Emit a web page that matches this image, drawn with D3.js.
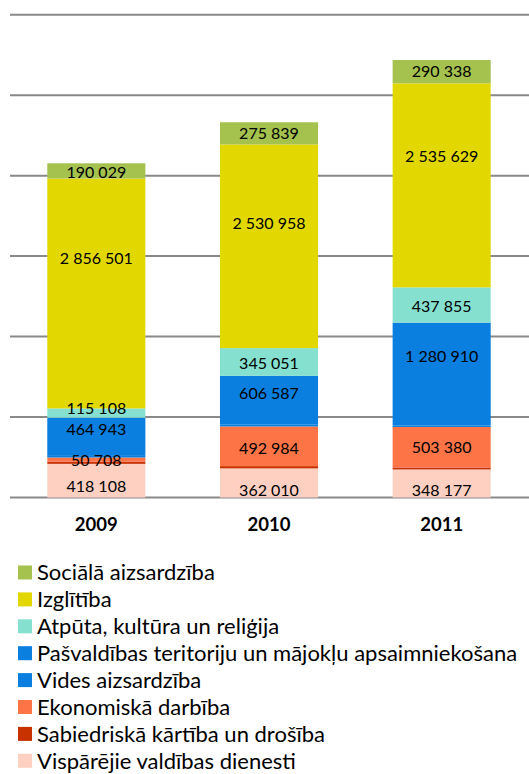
<!DOCTYPE html>
<html>
<head>
<meta charset="utf-8">
<script src="https://cdn.jsdelivr.net/npm/d3@7"></script>
<style>
  body { margin: 0; background: #fff; }
  text { font-family: Lato, "Open Sans", sans-serif; }
</style>
</head>
<body>
<script>
let size = {width: 529, height: 774};

// years along x
let years = ["2009", "2010", "2011"];

// series, bottom of the stack first
let series = [
  "Vispārējie valdības dienesti",
  "Sabiedriskā kārtība un drošība",
  "Ekonomiskā darbība",
  "Vides aizsardzība",
  "Pašvaldības teritoriju un mājokļu apsaimniekošana",
  "Atpūta, kultūra un reliģija",
  "Izglītība",
  "Sociālā aizsardzība"
];
let colors = ["#fdd0c2", "#c83200", "#fd7547", "#0a7fe0", "#0a7fe0", "#86e0cf", "#e2d800", "#a5c24f"];

// values per series (same order), one per year
let vispareji   = [418108, 362010, 348177];
let sabiedriska = [28000, 28000, 25000];
let ekonomiska  = [50708, 492984, 503380];
let vides       = [30000, 22000, 16000];
let pasvaldibas = [464943, 606587, 1280910];
let atputa      = [115108, 345051, 437855];
let izglitiba   = [2856501, 2530958, 2535629];
let sociala     = [190029, 275839, 290338];

// which segments carry a label
let labelled = [true, false, true, false, true, true, true, true];
// labels were moved by hand in the original (px, per series, per year)
let labelNudge = [[6, 7, 6.5], [0, 0, 0], [1, 2, 0], [0, 0, 0],
                  [-7, -7, -18], [-5, 1, 1], [-35, -23, -29], [1, 0, 0]];

let yTicks = [0, 1000000, 2000000, 3000000, 4000000, 5000000, 6000000];

let valueRows = [vispareji, sabiedriska, ekonomiska, vides, pasvaldibas, atputa, izglitiba, sociala];
let table = years.map((yr, i) => {
  let row = {year: yr};
  series.forEach((s, j) => row[s] = valueRows[j][i]);
  return row;
});
let stacked = d3.stack().keys(series)(table);

let svg = d3.select("body").append("svg")
    .attr("width", size.width).attr("height", size.height);

let x = d3.scaleBand().domain(years).range([10, 528]).paddingInner(0.432).paddingOuter(0.216);
let y = d3.scaleLinear().domain([0, 6000000]).range([497.5, 14.7]);

// gridlines
svg.append("g").selectAll("line").data(yTicks).join("line")
    .attr("x1", 10).attr("x2", size.width)
    .attr("y1", d => y(d)).attr("y2", d => y(d))
    .attr("stroke", "#898989").attr("stroke-width", 2);

let fmt = v => d3.format(",")(v).replace(/,/g, " ");

let layers = svg.append("g").selectAll("g").data(stacked).join("g")
    .attr("fill", (d, i) => colors[i]);
layers.selectAll("rect").data(d => d).join("rect")
    .attr("x", d => x(d.data.year))
    .attr("width", x.bandwidth())
    .attr("y", d => y(d[1]))
    .attr("height", d => y(d[0]) - y(d[1]));

// value labels
stacked.forEach((layer, i) => {
  if (!labelled[i]) return;
  svg.append("g").selectAll("text").data(layer).join("text")
      .attr("x", d => x(d.data.year) + x.bandwidth() / 2)
      .attr("y", (d, k) => (y(d[0]) + y(d[1])) / 2 + labelNudge[i][k])
      .attr("dy", "0.35em")
      .attr("text-anchor", "middle")
      .attr("font-size", 16)
      .attr("fill", "#000")
      .text(d => fmt(d[1] - d[0]));
});

// year labels
svg.append("g").selectAll("text").data(years).join("text")
    .attr("x", d => x(d) + x.bandwidth() / 2)
    .attr("y", 525)
    .attr("dy", "0.35em")
    .attr("text-anchor", "middle")
    .attr("font-size", 18.5)
    .attr("font-weight", "bold")
    .text(d => d);

// legend, top series first
let legendOrder = series.map((s, i) => i).reverse();
let legend = svg.append("g").selectAll("g").data(legendOrder).join("g")
    .attr("transform", (d, k) => `translate(18, ${572.5 + k * 26.9})`);
legend.append("rect")
    .attr("x", 0).attr("y", -7).attr("width", 14).attr("height", 14)
    .attr("fill", d => colors[d]);
legend.append("text")
    .attr("x", 19).attr("dy", "0.35em")
    .attr("font-size", 22)
    .text(d => series[d]);
</script>
</body>
</html>
